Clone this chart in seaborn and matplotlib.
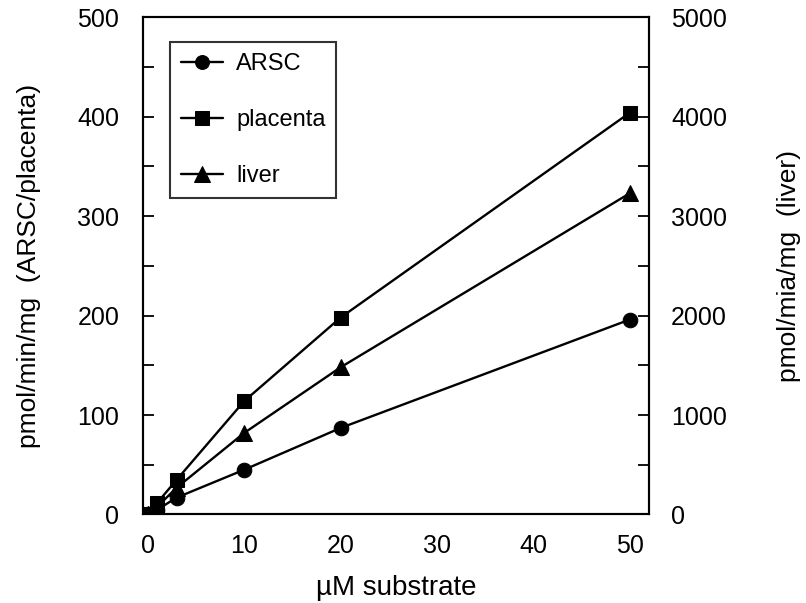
import matplotlib
matplotlib.use("Agg")
import matplotlib.pyplot as plt
import seaborn as sns
from matplotlib.ticker import MultipleLocator

substrate = [0, 1, 3, 10, 20, 50]
arsc = [0, 5, 17, 45, 87, 196]
placenta = [0, 12, 35, 114, 198, 404]
liver = [0, 80, 270, 820, 1480, 3230]

sns.set_style("white")
plt.rcParams['font.family'] = ['Liberation Sans', 'DejaVu Sans']
plt.rcParams['text.color'] = 'black'
plt.rcParams['axes.labelcolor'] = 'black'
plt.rcParams['xtick.color'] = 'black'
plt.rcParams['ytick.color'] = 'black'

fig = plt.figure(figsize=(8.06, 6.03), dpi=100)
ax = fig.add_axes([0.1774, 0.1468, 0.6278, 0.8245])
ax2 = ax.twinx()

lw = 1.7
ms = 10.5
sns.lineplot(x=substrate, y=arsc, ax=ax, color="black", marker="o", markersize=ms,
             linewidth=lw, markeredgecolor="black", label="ARSC", legend=False)
sns.lineplot(x=substrate, y=placenta, ax=ax, color="black", marker="s", markersize=ms,
             linewidth=lw, markeredgecolor="black", label="placenta", legend=False)
sns.lineplot(x=substrate, y=liver, ax=ax2, color="black", marker="^", markersize=ms + 1,
             linewidth=lw, markeredgecolor="black", label="liver", legend=False)

ax.set_xlim(-0.5, 52)
ax.set_ylim(0, 500)
ax2.set_ylim(0, 5000)

ax.xaxis.set_major_locator(MultipleLocator(10))
ax.yaxis.set_major_locator(MultipleLocator(100))
ax.yaxis.set_minor_locator(MultipleLocator(50))
ax2.yaxis.set_major_locator(MultipleLocator(1000))
ax2.yaxis.set_minor_locator(MultipleLocator(500))

for a in (ax, ax2):
    for s in a.spines.values():
        s.set_color("black")
        s.set_linewidth(1.5)
    a.tick_params(which="both", direction="in", color="black", labelcolor="black",
                  width=1.3, labelsize=18, length=8)

ax.tick_params(axis="y", pad=17)
ax.tick_params(axis="x", pad=14)
ax2.tick_params(axis="y", pad=16)

ax.set_xlabel("µM substrate", fontsize=20, labelpad=12)
ax.set_ylabel("pmol/min/mg  (ARSC/placenta)", fontsize=19, labelpad=26)
ax2.set_ylabel("pmol/mia/mg  (liver)", fontsize=19, labelpad=36)

h1, l1 = ax.get_legend_handles_labels()
h2, l2 = ax2.get_legend_handles_labels()
leg = ax2.legend(h1 + h2, l1 + l2, loc="upper left", bbox_to_anchor=(0.0534, 0.9497),
                 borderaxespad=0, frameon=True, fancybox=False, edgecolor="black",
                 fontsize=17, handlelength=1.8, labelspacing=1.45, borderpad=0.45,
                 handletextpad=0.55, markerscale=0.95)
leg.get_frame().set_linewidth(1.5)

fig.savefig("out.png", dpi=100)
